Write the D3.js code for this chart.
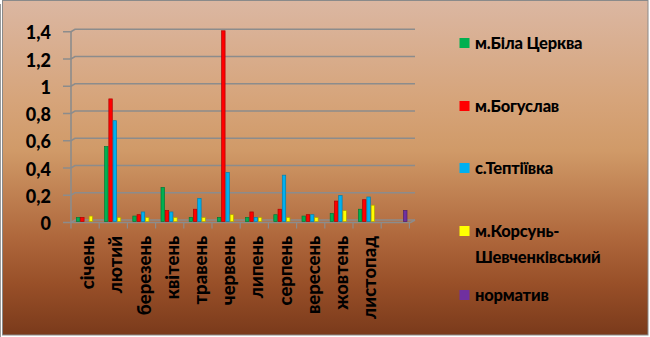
<!DOCTYPE html>
<html>
<head>
<meta charset="utf-8">
<script src="https://cdn.jsdelivr.net/npm/d3@7"></script>
<style>
  html, body { margin: 0; padding: 0; background: #ffffff; }
  svg { display: block; }
  text { font-family: Lato, "Open Sans", "Noto Sans", sans-serif; font-weight: 900; fill: #000; }
</style>
</head>
<body>
<svg id="chart" width="650" height="337"></svg>
<script>
// ---------- data ----------
const months = ["січень", "лютий", "березень", "квітень", "травень", "червень",
                "липень", "серпень", "вересень", "жовтень", "листопад", ""];
const seriesNames = ["м.Біла Церква", "м.Богуслав", "с.Тептіївка", "м.Корсунь-Шевченківський", "норматив"];
const bilaTserkva = [0.03, 0.55, 0.04, 0.25, 0.03, 0.03, 0.03, 0.05, 0.04, 0.06, 0.09, null];
const bohuslav    = [0.03, 0.90, 0.05, 0.08, 0.09, 1.40, 0.07, 0.09, 0.05, 0.15, 0.16, null];
const teptiivka   = [null, 0.74, 0.07, 0.07, 0.17, 0.36, 0.03, 0.34, 0.05, 0.19, 0.18, null];
const korsun      = [0.04, 0.03, 0.03, 0.03, 0.03, 0.05, 0.03, 0.03, 0.03, 0.08, 0.12, null];
const normatyv    = [null, null, null, null, null, null, null, null, null, null, null, 0.08];
const yTicks = [0, 0.2, 0.4, 0.6, 0.8, 1, 1.2, 1.4];

const seriesValues = [bilaTserkva, bohuslav, teptiivka, korsun, normatyv];
const colors = ["#00b050", "#ff0000", "#00b0f0", "#ffff00", "#7030a0"];
const strokes = ["#007a38", "#b00000", "#0080b0", "#b0a000", "#4a1f70"];

// ---------- layout ----------
const svg = d3.select("#chart");

const defs = svg.append("defs");
const grad = defs.append("linearGradient").attr("id", "bg").attr("x1", 0).attr("y1", 0).attr("x2", 0).attr("y2", 1);
[["0%", "#dbb7a2"], ["30%", "#d6a47a"], ["45%", "#d09a68"], ["70%", "#b0693d"], ["85%", "#984f28"], ["100%", "#7a3a1b"]]
  .forEach(s => grad.append("stop").attr("offset", s[0]).attr("stop-color", s[1]));

svg.append("rect").attr("x", 2).attr("y", 0).attr("width", 646).attr("height", 335)
  .attr("fill", "url(#bg)");
svg.append("rect").attr("x", 2.5).attr("y", 0.5).attr("width", 645.5).attr("height", 334.5)
  .attr("fill", "none").attr("stroke", "#8a8a8a").attr("stroke-width", 1);
svg.append("line").attr("x1", 0.5).attr("y1", 4).attr("x2", 0.5).attr("y2", 337)
  .attr("stroke", "#9a9a9a").attr("stroke-width", 1);

const y = d3.scaleLinear().domain([0, 1.4]).range([220, 29.3]);
const x0 = d3.scaleBand().domain(months).range([71, 409.4]).padding(0);
const x1 = d3.scaleBand().domain(d3.range(5)).range([5, 26.2]).padding(0);

const dx = 4, dy = 2.5; // 3D depth offset
const grid = svg.append("g");
const gridColor = "#8c8c8c";

yTicks.forEach(t => {
  const gy = y(t);
  grid.append("path")
    .attr("d", `M${71 - 8},${gy + dy} L${71},${gy + dy} L${71 + dx},${gy} L${415},${gy}`)
    .attr("fill", "none").attr("stroke", gridColor).attr("stroke-width", 1.6);
});
grid.append("line").attr("x1", 71).attr("x2", 71)
  .attr("y1", y(1.4) + dy).attr("y2", y(0) + dy + 0.5)
  .attr("stroke", gridColor).attr("stroke-width", 1.6);
grid.append("path")
  .attr("d", `M${71},${y(0) + dy} L${410.5},${y(0) + dy} L${415},${y(0)}`)
  .attr("fill", "none").attr("stroke", gridColor).attr("stroke-width", 1.6);
months.forEach(m => {
  const xx = x0(m);
  grid.append("line").attr("x1", xx).attr("x2", xx)
    .attr("y1", y(0) + dy).attr("y2", y(0) + dy + 6)
    .attr("stroke", gridColor).attr("stroke-width", 1.2);
});
grid.append("line").attr("x1", x0.range()[1]).attr("x2", x0.range()[1])
  .attr("y1", y(0) + dy).attr("y2", y(0) + dy + 6)
  .attr("stroke", gridColor).attr("stroke-width", 1.2);

svg.append("g").selectAll("text").data(yTicks).join("text")
  .attr("x", 51).attr("y", d => y(d) + dy + 0.5)
  .attr("text-anchor", "end").attr("dominant-baseline", "central")
  .style("font-size", "18px")
  .text(d => d3.format(".1~f")(d).replace(".", ","));

const barsG = svg.append("g");
seriesValues.forEach((vals, si) => {
  barsG.selectAll(null)
    .data(months.map((m, i) => ({ m, v: vals[i] })).filter(d => d.v != null && d.v > 0))
    .join("rect")
    .attr("x", d => x0(d.m) + x1(si) + 0.4)
    .attr("y", d => y(d.v) + 1.5)
    .attr("width", x1.bandwidth() - 0.8)
    .attr("height", d => y(0) - y(d.v))
    .attr("fill", colors[si])
    .attr("stroke", strokes[si])
    .attr("stroke-width", 0.7);
});

svg.append("g").selectAll("text").data(months.filter(m => m !== "")).join("text")
  .attr("transform", m => `translate(${x0(m) + x0.bandwidth() / 2 + 2},${236}) rotate(-90)`)
  .attr("text-anchor", "end").attr("dominant-baseline", "central")
  .style("font-size", "18.5px")
  .text(m => m);

const legendItems = [
  { lines: ["м.Біла Церква"], y: 43 },
  { lines: ["м.Богуслав"], y: 106 },
  { lines: ["с.Тептіївка"], y: 168 },
  { lines: ["м.Корсунь-", "Шевченківський"], y: 231 },
  { lines: ["норматив"], y: 295 }
];
const lg = svg.append("g");
legendItems.forEach((it, i) => {
  lg.append("rect").attr("x", 459.5).attr("y", it.y - 5).attr("width", 10).attr("height", 10)
    .attr("fill", colors[i]);
  it.lines.forEach((ln, j) => {
    lg.append("text").attr("x", 475).attr("y", it.y + j * 26)
      .attr("dominant-baseline", "central")
      .style("font-size", "16.5px")
      .style("letter-spacing", "-0.2px")
      .text(ln);
  });
});
</script>
</body>
</html>
